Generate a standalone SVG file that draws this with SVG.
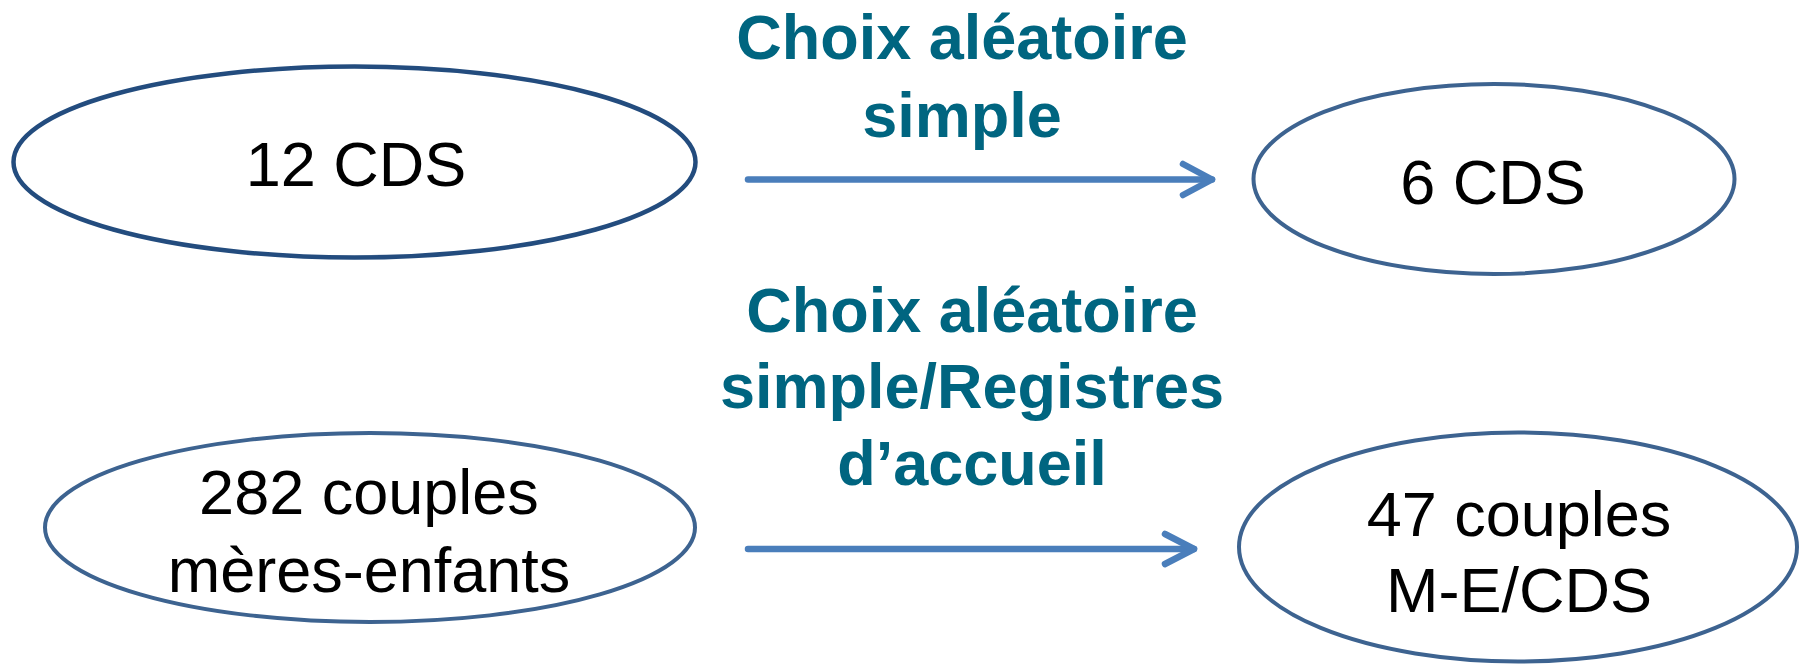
<svg xmlns="http://www.w3.org/2000/svg" width="1800" height="665" viewBox="0 0 1800 665">
<style>
.node{fill:#ffffff;stroke:#3D6390;stroke-width:4}
.n1{stroke:#234C7E;stroke-width:4.5}
.t{font-family:"Liberation Sans",Arial,sans-serif;font-size:63px;fill:#000000;text-anchor:middle}
.lbl{font-family:"Liberation Sans",Arial,sans-serif;font-size:63px;font-weight:bold;fill:#006580;text-anchor:middle}
.arr{stroke:#4A7EBB;stroke-width:6.5;fill:none;stroke-linecap:round;stroke-linejoin:round}
</style>
<rect width="1800" height="665" fill="#ffffff"/>
<g id="node-12cds">
<ellipse class="node n1" cx="354.5" cy="162" rx="341" ry="95.5"/>
<text class="t" x="356" y="186">12 CDS</text>
</g>
<g id="node-6cds">
<ellipse class="node" cx="1494" cy="179" rx="240.5" ry="95"/>
<text class="t" x="1493" y="204">6 CDS</text>
</g>
<g id="node-282">
<ellipse class="node" cx="370" cy="527.5" rx="325" ry="94.5"/>
<text class="t" x="369" y="514">282 couples</text>
<text class="t" x="369" y="592">mères-enfants</text>
</g>
<g id="node-47">
<ellipse class="node" cx="1518" cy="547" rx="279" ry="114.5"/>
<text class="t" x="1519" y="536">47 couples</text>
<text class="t" x="1519" y="612">M-E/CDS</text>
</g>
<g id="connectors">
<path class="arr" d="M748 179.5 H1212" stroke-linecap="butt"/>
<path class="arr" d="M1183 164 L1212 179.5 L1183 195"/>
<path class="arr" d="M748 549 H1194" stroke-linecap="butt"/>
<path class="arr" d="M1165 534 L1194 549 L1165 564"/>
<text class="lbl" x="962" y="59">Choix aléatoire</text>
<text class="lbl" x="962" y="137">simple</text>
<text class="lbl" x="972" y="332">Choix aléatoire</text>
<text class="lbl" x="972" y="408">simple/Registres</text>
<text class="lbl" x="972" y="485">d’accueil</text>
</g>
</svg>
